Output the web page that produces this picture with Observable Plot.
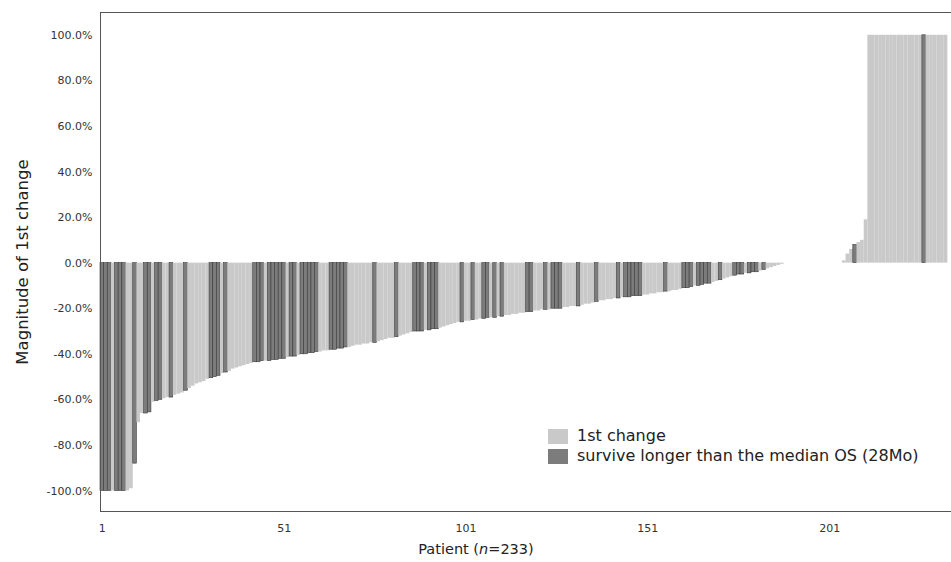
<!DOCTYPE html>
<html>
<head>
<meta charset="utf-8">
<script src="https://cdn.jsdelivr.net/npm/d3@7"></script>
<script src="https://cdn.jsdelivr.net/npm/@observablehq/plot@0.6"></script>
<style>
  body { margin: 0; background: #fff; }
  #wrap { position: relative; width: 951px; height: 562px; overflow: hidden; font-family: "DejaVu Sans", sans-serif; color: #222; }
  .ylab { position: absolute; left: 22px; top: 262px; transform: translate(-50%, -50%) rotate(-90deg); white-space: nowrap; font-size: 16.5px; }
  .xlab { position: absolute; left: 476px; top: 549px; transform: translate(-50%, -50%); white-space: nowrap; font-size: 14.5px; }
  .legend { position: absolute; left: 548px; top: 426px; font-size: 16px; line-height: 20px; }
  .legend div { display: flex; align-items: center; white-space: nowrap; }
  .legend span.sw { display: inline-block; width: 20px; height: 15px; margin-right: 9px; }
</style>
</head>
<body>
<div id="wrap">
  <div id="chart"></div>
  <div class="ylab">Magnitude of 1st change</div>
  <div class="xlab">Patient (<i>n</i>=233)</div>
  <div class="legend" id="legend"></div>
</div>
<script>
// Magnitude of 1st change (%) for patients 1..233, sorted
const values = [
  -100, -100, -100, -100, -100, -100, -100, -100, -99, -88,
  -70, -66, -66, -65.5, -61, -60.5, -60, -59.5, -59, -59,
  -58, -57.5, -57, -56, -55, -54, -53, -52.5, -52, -51,
  -50.5, -50, -49.5, -48.5, -48, -47.5, -46.5, -46, -45.5, -45,
  -44.5, -44, -43.5, -43.5, -43, -43, -43, -42.5, -42.5, -42,
  -42, -41.5, -41, -41, -40.5, -40, -40, -39.5, -39.5, -39,
  -39, -38.5, -38.5, -38, -38, -37.5, -37.5, -37, -37, -36.5,
  -36, -36, -35.5, -35.5, -35, -35, -34.5, -34, -33.5, -33,
  -33, -32.5, -32, -31.5, -31, -30.5, -30, -30, -30, -29.5,
  -29.5, -29, -29, -28.5, -28, -27.5, -27, -26.5, -26, -26,
  -25.5, -25.5, -25, -25, -24.5, -24.5, -24, -24, -24, -23.5,
  -23.5, -23, -23, -22.5, -22.5, -22, -22, -21.5, -21.5, -21,
  -21, -20.5, -20.5, -20.5, -20, -20, -20, -19.5, -19.5, -19,
  -19, -19, -18.5, -18, -18, -17.5, -17, -16.5, -16.5, -16,
  -16, -15.5, -15.5, -15, -15, -15, -14.5, -14.5, -14.5, -14,
  -14, -13.5, -13.5, -13, -13, -12.5, -12.5, -12, -12, -11.5,
  -11, -11, -10.5, -10, -10, -9.5, -9, -9, -8.5, -8,
  -7.5, -7, -6.5, -6, -5.5, -5, -5, -4.5, -4.5, -4,
  -4, -3.5, -3, -2.5, -2, -1.5, -1, -0.5, 0, 0,
  0, 0, 0, 0, 0, 0, 0, 0, 0, 0,
  0, 0, 0, 0, 1, 4, 6, 8, 9, 10,
  19, 100, 100, 100, 100, 100, 100, 100, 100, 100,
  100, 100, 100, 100, 100, 100, 100, 100, 100, 100,
  100, 100, 100
];
// Patients who survive longer than the median OS (28Mo)
const darkPatients = [
  1, 2, 3, 5, 6, 7, 10, 13, 14, 16, 17, 20, 24, 31, 32, 33, 35, 43, 44, 45,
  47, 48, 49, 50, 51, 53, 54, 56, 57, 58, 59, 60, 64, 65, 66, 67, 68, 76, 82,
  87, 88, 89, 91, 92, 93, 100, 103, 106, 107, 109, 111, 118, 119, 123, 125,
  126, 127, 132, 137, 143, 145, 146, 147, 148, 149, 156, 161, 162, 163, 165,
  166, 167, 168, 171, 175, 176, 177, 179, 180, 181, 183, 208, 227
];
const xTicks = [1, 51, 101, 151, 201];
const yTicks = [-100, -80, -60, -40, -20, 0, 20, 40, 60, 80, 100];
const seriesNames = ["1st change", "survive longer than the median OS (28Mo)"];
const seriesColors = ["#c9c9c9", "#7c7c7c"];

const darkSet = new Set(darkPatients);
const data = values.map((v, i) => ({patient: i + 1, value: v, group: darkSet.has(i + 1) ? seriesNames[1] : seriesNames[0]}));

const chart = Plot.plot({
  width: 951,
  height: 562,
  marginLeft: 100,
  marginRight: 0,
  marginTop: 12,
  marginBottom: 51,
  style: {fontFamily: "DejaVu Sans, sans-serif", fontSize: "11px", color: "#333", background: "#fff"},
  x: {domain: [0.5, 234.5]},
  y: {domain: [-109, 110]},
  color: {domain: seriesNames, range: seriesColors},
  marks: [
    Plot.rectY(data, {
      x1: d => d.patient - 0.5,
      x2: d => d.patient + 0.5,
      y: "value",
      fill: "group",
      stroke: d => d.group === seriesNames[1] ? "#3a3a3a" : "none",
      strokeWidth: 0.6
    }),
    Plot.frame({anchor: "left", stroke: "#555"}),
    Plot.frame({anchor: "top", stroke: "#555"}),
    Plot.frame({anchor: "bottom", stroke: "#555"}),
    Plot.axisY({ticks: yTicks, tickFormat: d => d.toFixed(1) + "%", tickSize: 0, tickPadding: 8, label: null}),
    Plot.axisX({ticks: xTicks, tickFormat: d => String(d), tickSize: 0, tickPadding: 13, label: null})
  ]
});
document.getElementById("chart").appendChild(chart);

const legend = document.getElementById("legend");
seriesNames.forEach((name, i) => {
  const row = document.createElement("div");
  const sw = document.createElement("span");
  sw.className = "sw";
  sw.style.background = seriesColors[i];
  row.appendChild(sw);
  row.appendChild(document.createTextNode(name));
  legend.appendChild(row);
});
</script>
</body>
</html>
